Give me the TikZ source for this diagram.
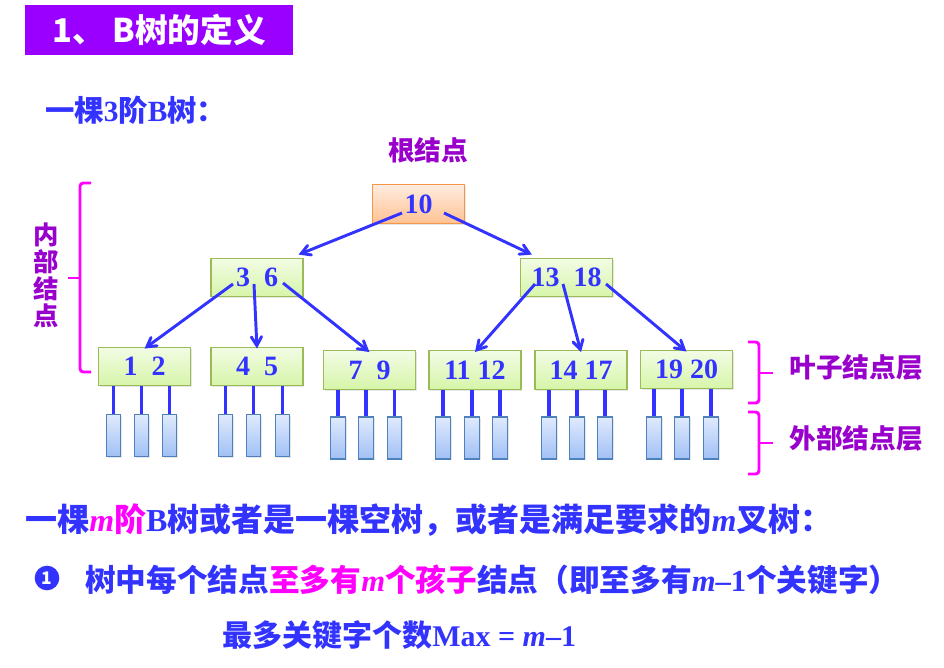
\documentclass[tikz,border=0pt]{standalone}
\usepackage{fontspec}
\setmainfont{Liberation Serif}
\newfontfamily\cjk{Noto Sans CJK SC}
\usepackage{tikz}
\usetikzlibrary{arrows,shadows}

\definecolor{keyblue}{RGB}{51,51,255}
\definecolor{titlepurple}{RGB}{153,0,255}
\definecolor{labpurple}{RGB}{153,0,204}
\definecolor{bracepink}{RGB}{255,0,255}
\definecolor{leafline}{RGB}{155,187,89}
\definecolor{leaftop}{RGB}{243,252,230}
\definecolor{leafbot}{RGB}{214,245,168}
\definecolor{rootline}{RGB}{247,150,70}
\definecolor{roottop}{RGB}{255,236,224}
\definecolor{rootbot}{RGB}{255,194,146}
\definecolor{extline}{RGB}{79,129,189}
\definecolor{exttop}{RGB}{224,234,253}
\definecolor{extbot}{RGB}{160,192,245}

\tikzset{
  keybox/.style={draw=leafline, line width=0.9pt, top color=leaftop, bottom color=leafbot, minimum width=69pt, minimum height=29pt, inner sep=0pt, text=keyblue, font=\bfseries\fontsize{21}{21}\selectfont, drop shadow={opacity=0.2, shadow xshift=1pt, shadow yshift=-1pt}},
  rootbox/.style={keybox, draw=rootline, top color=roottop, bottom color=rootbot},
  extbox/.style={draw=extline, line width=0.9pt, top color=exttop, bottom color=extbot, minimum width=11pt, minimum height=31.5pt, inner sep=0pt, drop shadow={opacity=0.2, shadow xshift=1pt, shadow yshift=-1pt}},
  tolink/.style={draw=keyblue, line width=2.2pt, ->, >=angle 60},
  stub/.style={draw=keyblue, line width=2.4pt},
  brace/.style={draw=bracepink, line width=2.2pt, rounded corners=2.5pt},
  lab/.style={text=labpurple, inner sep=0pt, font=\cjk\bfseries\fontsize{20}{20}\selectfont},
  say/.style={anchor=west, inner sep=0pt, text=keyblue, font=\bfseries\fontsize{22.5}{22.5}\selectfont},
}

\begin{document}
\begin{tikzpicture}[x=0.75pt,y=0.75pt,yscale=-1,xscale=1]
\useasboundingbox (0,0) rectangle (944,667);

% Title bar
\node (title) at (159,30) [fill=titlepurple, minimum width=201pt, minimum height=37.5pt, inner sep=0pt, text=white, font=\cjk\bfseries\fontsize{24.5}{24.5}\selectfont] {1、\ B树的定义};
% Text Node
\node (order) at (45,110) [say, font=\bfseries\fontsize{22}{22}\selectfont] {{\cjk 一棵}3{\cjk 阶}B{\cjk 树：}};
% Text Node
\node (rootlab) at (428,150) [lab] {根结点};

%Flowchart: Process [root]
\node (root) at (418.5,204) [rootbox] {10};
%Flowchart: Process [inner]
\node (n36) at (257,277.5) [keybox] {3\ \ 6};
\node (n1318) at (566.5,277.5) [keybox] {13\ \ 18};
%Flowchart: Process [leaves]
\node (l1) at (144.5,366.5) [keybox] {1\ \ 2};
\node (l2) at (257,366.5) [keybox] {4\ \ 5};
\node (l3) at (369.5,370) [keybox] {7\ \ 9};
\node (l4) at (475,370) [keybox] {11 12};
\node (l5) at (581,370) [keybox] {14 17};
\node (l6) at (686.5,369.5) [keybox] {19 20};

%Straight Lines with arrows
\draw[tolink] ([shift={(-16.5,9)}]root.center) -- ([shift={(-5,-3)}]n36.north east);
\draw[tolink] ([shift={(25.5,9)}]root.center) -- ([shift={(12,-3)}]n1318.north west);
\draw[tolink] ([shift={(-24,6.5)}]n36.center) -- ([yshift=1.5pt]l1.north);
\draw[tolink] ([shift={(-3,6.5)}]n36.center) -- ([yshift=1.5pt]l2.north);
\draw[tolink] ([shift={(26,5.5)}]n36.center) -- ([yshift=1.5pt]l3.north);
\draw[tolink] ([shift={(-31.5,6.5)}]n1318.center) -- ([yshift=1.5pt]l4.north);
\draw[tolink] ([shift={(-3.5,6.5)}]n1318.center) -- ([yshift=1.5pt]l5.north);
\draw[tolink] ([shift={(39.5,6.5)}]n1318.center) -- ([yshift=1.5pt]l6.north);

%Rectangles [external nodes]
\node (e1a) at (113.5,435.5) [extbox] {};
\node (e1b) at (141.5,435.5) [extbox] {};
\node (e1c) at (169.5,435.5) [extbox] {};
\node (e2a) at (225.5,435.5) [extbox] {};
\node (e2b) at (253.5,435.5) [extbox] {};
\node (e2c) at (282.5,435.5) [extbox] {};
\node (e3a) at (338,438) [extbox] {};
\node (e3b) at (366,438) [extbox] {};
\node (e3c) at (394.5,438) [extbox] {};
\node (e4a) at (443,438) [extbox] {};
\node (e4b) at (472,438) [extbox] {};
\node (e4c) at (500,438) [extbox] {};
\node (e5a) at (549,438) [extbox] {};
\node (e5b) at (577,438) [extbox] {};
\node (e5c) at (605,438) [extbox] {};
\node (e6a) at (654,438) [extbox] {};
\node (e6b) at (682,438) [extbox] {};
\node (e6c) at (711,438) [extbox] {};

%Straight Lines [stubs]
\draw[stub] (e1a |- l1.south) -- (e1a);
\draw[stub] (e1b |- l1.south) -- (e1b);
\draw[stub] (e1c |- l1.south) -- (e1c);
\draw[stub] (e2a |- l2.south) -- (e2a);
\draw[stub] (e2b |- l2.south) -- (e2b);
\draw[stub] (e2c |- l2.south) -- (e2c);
\draw[stub] (e3a |- l3.south) -- (e3a);
\draw[stub] (e3b |- l3.south) -- (e3b);
\draw[stub] (e3c |- l3.south) -- (e3c);
\draw[stub] (e4a |- l4.south) -- (e4a);
\draw[stub] (e4b |- l4.south) -- (e4b);
\draw[stub] (e4c |- l4.south) -- (e4c);
\draw[stub] (e5a |- l5.south) -- (e5a);
\draw[stub] (e5b |- l5.south) -- (e5b);
\draw[stub] (e5c |- l5.south) -- (e5c);
\draw[stub] (e6a |- l6.south) -- (e6a);
\draw[stub] (e6b |- l6.south) -- (e6b);
\draw[stub] (e6c |- l6.south) -- (e6c);

%Braces
\draw[brace] (91,183) -- (80,183) -- (80,372) -- (91,372);
\draw[brace] (80,278) -- (68,278);
\draw[brace] (748,342) -- (759,342) -- (759,403) -- (748,403);
\draw[brace] (759,373) -- (773,373);
\draw[brace] (748,412) -- (759,412) -- (759,474) -- (748,474);
\draw[brace] (759,443) -- (773,443);

% Text Node
\node (innerlab) at (46,275) [lab, align=center, font=\cjk\bfseries\fontsize{19}{20.25}\selectfont] {内\\部\\结\\点};
\node (leaflab) at (856,367) [lab] {叶子结点层};
\node (extlab) at (856,438) [lab] {外部结点层};

% Text Node
\node (def) at (25,520) [say, font=\bfseries\fontsize{24}{24}\selectfont] {{\cjk 一棵}{\color{bracepink}\itshape m{\upshape\cjk 阶}}B{\cjk 树或者是一棵空树，或者是满足要求的}\textit{m}{\cjk 叉树：}};
% Bullet
\node (dot) at (47,578) [circle, fill=keyblue, minimum size=18.5pt, inner sep=0pt, text=white, font=\cjk\bfseries\fontsize{13}{13}\selectfont] {1};
% Text Node
\node (rule) at (85,580) [say, font=\bfseries\fontsize{23}{23}\selectfont] {{\cjk 树中每个结点}{\color{bracepink}{\cjk 至多有}\textit{m}{\cjk 个孩子}}{\cjk 结点（即至多有}\textit{m}–1{\cjk 个关键字）}};
% Text Node
\node (max) at (222,635) [say] {{\cjk 最多关键字个数}Max = \textit{m}–1};

\end{tikzpicture}
\end{document}
